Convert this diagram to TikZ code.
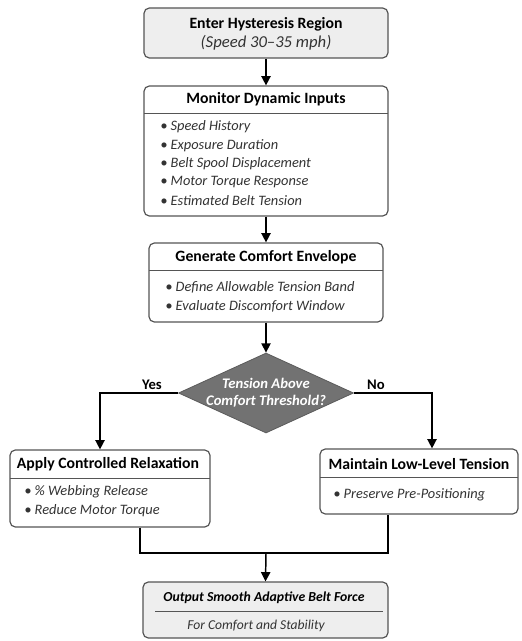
\documentclass[tikz,border=0pt]{standalone}
\usepackage{fontspec}
\setmainfont{Carlito}
\usetikzlibrary{shapes.geometric,fit,arrows.meta}
\definecolor{boxline}{HTML}{555555}
\definecolor{lightfill}{HTML}{EEEEEE}
\definecolor{diafill}{HTML}{727272}
\definecolor{bultext}{HTML}{333333}
\tikzset{
  box/.style={draw=boxline, line width=0.9pt, rounded corners=4pt, inner sep=0pt, fill=white},
  graybox/.style={box, fill=lightfill},
  ttl/.style={font=\fontsize{11.8}{13}\selectfont\bfseries, text=black, inner sep=0pt},
  bul/.style={font=\fontsize{10.8}{12}\selectfont\itshape, text=bultext, anchor=west, inner sep=0pt},
  sep/.style={draw=boxline, line width=0.7pt},
  conn/.style={draw=black, line width=1.1pt},
  arr/.style={conn, -{Triangle[length=7pt,width=7pt]}},
  lbl/.style={font=\fontsize{11}{12}\selectfont\bfseries, text=black, inner sep=0pt}
}
\newcommand{\bl}[1]{\textbullet\ #1}
\begin{document}
\begin{tikzpicture}[x=0.75pt,y=-0.75pt]
\useasboundingbox (0,0) rectangle (521,641);
% Box 1
\node[graybox, fit={(144,8)(388,58)}] (b1) {};
\node[ttl] (b1t) at (266,24) {Enter Hysteresis Region};
\node[font=\fontsize{12.5}{14}\selectfont\itshape, text=bultext, inner sep=0pt] (b1s) at (266,43) {(Speed 30–35 mph)};
% Box 2
\node[box, fit={(144,86)(388,216)}] (b2) {};
\draw[sep] (144,113) -- (388,113);
\node[ttl] (b2t) at (266,99) {Monitor Dynamic Inputs};
\node[bul] (b2a) at (160,127) {\bl{Speed History}};
\node[bul] (b2b) at (160,145.5) {\bl{Exposure Duration}};
\node[bul] (b2c) at (160,164) {\bl{Belt Spool Displacement}};
\node[bul] (b2d) at (160,182.5) {\bl{Motor Torque Response}};
\node[bul] (b2e) at (160,201) {\bl{Estimated Belt Tension}};
% Box 3
\node[box, fit={(149,243)(383,322)}] (b3) {};
\draw[sep] (149,270) -- (383,270);
\node[ttl] (b3t) at (266,257) {Generate Comfort Envelope};
\node[bul] (b3a) at (165,287) {\bl{Define Allowable Tension Band}};
\node[bul] (b3b) at (165,306) {\bl{Evaluate Discomfort Window}};
% Diamond
\node[diamond, draw=diafill!80!black, fill=diafill, line width=0.6pt, minimum width=131.25pt, minimum height=60pt, inner sep=0pt] (d) at (266,393) {};
\node[font=\fontsize{11}{12.5}\selectfont\bfseries\itshape, text=white, align=center, inner sep=0pt] (dt) at (266,393) {Tension Above\\Comfort Threshold?};
\node[lbl] (yes) at (152,385) {Yes};
\node[lbl] (no) at (376,385) {No};
% Left box
\node[box, fit={(10,450)(210,527)}] (bl) {};
\draw[sep] (10,478) -- (210,478);
\node[ttl] (blt) at (108,464) {Apply Controlled Relaxation};
\node[bul] (bla) at (24,492) {\bl{\% Webbing Release}};
\node[bul] (blb) at (24,511) {\bl{Reduce Motor Torque}};
% Right box
\node[box, fit={(320,449)(518,514)}] (br) {};
\draw[sep] (320,477) -- (518,477);
\node[ttl] (brt) at (419,464) {Maintain Low-Level Tension};
\node[bul] (bra) at (333,495) {\bl{Preserve Pre-Positioning}};
% Bottom box
\node[graybox, fit={(143,582)(388,638)}] (b5) {};
\draw[sep] (155,611) -- (383,611);
\node[font=\fontsize{10.3}{12}\selectfont\bfseries\itshape, text=black, inner sep=0pt] (b5t) at (264,598) {Output Smooth Adaptive Belt Force};
\node[font=\fontsize{10.2}{12}\selectfont\itshape, text=bultext, inner sep=0pt] (b5s) at (256,626) {For Comfort and Stability};
% Connectors
\coordinate (yl) at (100,393);
\coordinate (nr) at (432,393);
\coordinate (ml) at (140,553);
\coordinate (mr) at (388,553);
\coordinate (mc) at (266,553);
\draw[arr] (b1.south) -- (b2.north);
\draw[arr] (b2.south) -- (b3.north);
\draw[arr] (b3.south) -- (d.north);
\draw[arr] (d.west) -- (yl) -- (yl |- bl.north);
\draw[arr] (d.east) -- (nr) -- (nr |- br.north);
\draw[conn] (ml |- bl.south) -- (ml) -- (mr) -- (mr |- br.south);
\draw[arr] (mc) -- (b5.north);
\end{tikzpicture}
\end{document}
